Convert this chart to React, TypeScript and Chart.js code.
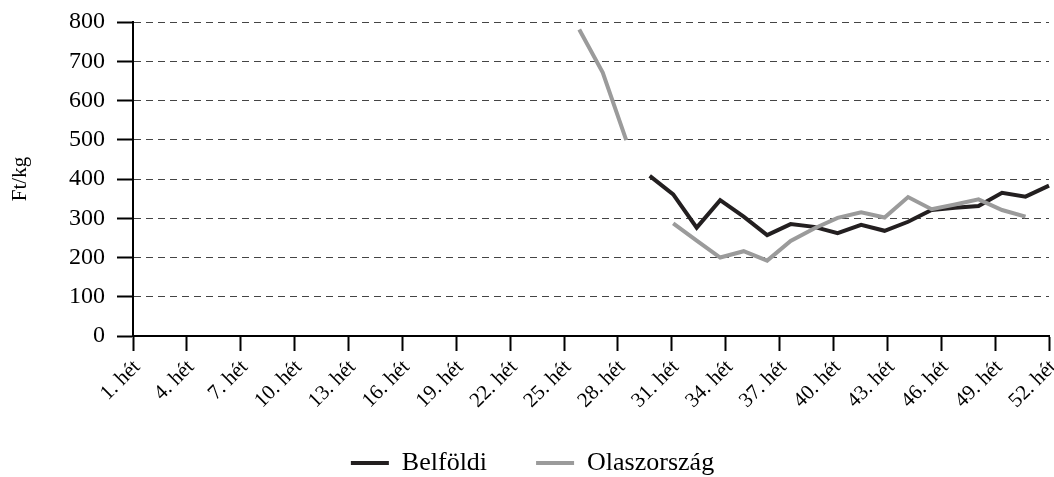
import React, { useEffect, useRef } from "react";
import { Chart, registerables } from "chart.js";

Chart.register(...registerables);

const weekLabels: string[] = Array.from({ length: 52 }, (_, i) => `${i + 1}. hét`);
const sampleLabels: string[] = Array.from({ length: 40 }, (_, i) => `${i + 1}`);

const belfoldi: (number | null)[] = [
  null, null, null, null, null, null, null, null, null, null,
  null, null, null, null, null, null, null, null, null, null,
  null, null, 408, 361, 276, 346, 304, 257, 285, 278,
  262, 283, 268, 291, 321, 327, 331, 365, 355, 383,
];

const olaszorszag: (number | null)[] = [
  null, null, null, null, null, null, null, null, null, null,
  null, null, null, null, null, null, null, null, null, 781,
  671, 499, null, 287, 243, 200, 216, 192, 242, 274,
  301, 315, 302, 354, 323, 335, 348, 321, 304, null,
];

const seriesNames = ["Belföldi", "Olaszország"];
const yTitle = "Ft/kg";

export default function App() {
  const ref = useRef<HTMLCanvasElement | null>(null);
  useEffect(() => {
    if (!ref.current) return;
    const serif = "'Liberation Serif', 'Times New Roman', serif";
    Chart.defaults.font.family = serif;
    const chart = new Chart(ref.current, {
      type: "line",
      data: {
        labels: weekLabels,
        datasets: [
          {
            label: seriesNames[0],
            data: belfoldi,
            xAxisID: "xd",
            borderColor: "#231f20",
            backgroundColor: "#231f20",
            borderWidth: 4,
            pointRadius: 0,
            tension: 0,
            spanGaps: false,
            order: 1,
          },
          {
            label: seriesNames[1],
            data: olaszorszag,
            xAxisID: "xd",
            borderColor: "#9b9b9b",
            backgroundColor: "#9b9b9b",
            borderWidth: 4,
            pointRadius: 0,
            tension: 0,
            spanGaps: false,
            order: 0,
          },
        ],
      },
      options: {
        animation: false,
        responsive: false,
        maintainAspectRatio: false,
        layout: { padding: { left: 16, right: 5, top: 22, bottom: -9 } },
        plugins: {
          tooltip: { enabled: false },
          legend: {
            position: "bottom",
            labels: {
              boxWidth: 38,
              boxHeight: 4,
              padding: 36,
              color: "#000",
              font: { size: 26, family: serif },
              sort: (a: any, b: any) => a.datasetIndex - b.datasetIndex,
              generateLabels: (c: any) =>
                Chart.defaults.plugins.legend.labels
                  .generateLabels(c)
                  .map((l: any) => ({
                    ...l,
                    lineWidth: 0,
                    text: l.datasetIndex === 0 ? l.text + "\u2002" : l.text,
                  })),
            },
          },
        },
        scales: {
          x: {
            type: "category",
            labels: weekLabels,
            position: "bottom",
            offset: false,
            afterFit: (s: any) => {
              s.height = 78;
              s.paddingLeft = 0;
              s.paddingRight = 0;
            },
            grid: {
              drawOnChartArea: false,
              drawTicks: true,
              tickLength: 15,
              tickWidth: 2,
              tickColor: (ctx: any) => (ctx.index % 3 === 0 ? "#000" : "rgba(0,0,0,0)"),
            },
            border: { display: true, color: "#000", width: 2 },
            ticks: {
              autoSkip: false,
              maxRotation: 45,
              minRotation: 45,
              padding: 4,
              labelOffset: 4,
              color: "#000",
              font: { size: 21, family: serif },
              callback: (_v: any, i: number) => (i % 3 === 0 ? weekLabels[i] : ""),
            },
          },
          xd: {
            type: "category",
            labels: sampleLabels,
            display: false,
            offset: false,
          },
          y: {
            min: 0,
            max: 800,
            afterFit: (s: any) => {
              s.width = 117;
              s.paddingTop = 0;
              s.paddingBottom = 0;
            },
            ticks: {
              stepSize: 100,
              padding: 12,
              color: "#000",
              font: { size: 24, family: serif },
            },
            grid: {
              color: "#444",
              lineWidth: 1,
              tickColor: "#000",
              tickLength: 16,
              tickWidth: 2,
            },
            border: { display: true, color: "#000", width: 2, dash: [7, 5] },
            title: {
              display: true,
              text: yTitle,
              color: "#000",
              font: { size: 21, family: serif },
              padding: { top: -8, bottom: 0 },
            },
          },
        },
      },
    });
    return () => chart.destroy();
  }, []);
  return (
    <div style={{ position: "absolute", left: 0, top: 0, width: 1054, height: 477 }}>
      <canvas ref={ref} width={1054} height={477} />
    </div>
  );
}
